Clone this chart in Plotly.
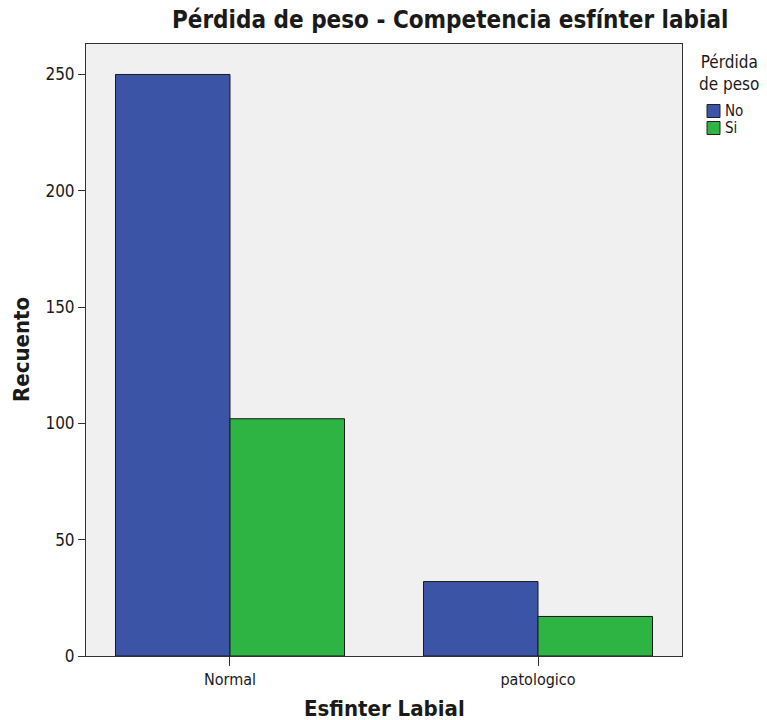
import plotly.graph_objects as go

categories = ["Normal", "patologico"]
series_names = ["No", "Si"]
values_no = [250, 32]
values_si = [102, 17]
colors = ["#3B54A6", "#2DB443"]
y_ticks = [0, 50, 100, 150, 200, 250]
legend_title = "Pérdida<br>de peso"

W, H = 767, 720
L, R, T, B = 86, 85, 44, 64
pw, ph = W - L - R, H - T - B

FONT = "DejaVu Sans Condensed"
TXT = "#1a1a1a"


def px_x(px):
    return (px - L) / pw


def px_y(py):
    return (H - B - py) / ph


fig = go.Figure()
for name, vals, col in zip(series_names, [values_no, values_si], colors):
    fig.add_trace(go.Bar(
        x=categories, y=vals, name=name, showlegend=False,
        marker=dict(color=col, line=dict(color="#1a1a1a", width=1)),
    ))

# custom legend (squares + labels)
shapes = []
annotations = []
legend_rows_y = [111, 128]
for name, col, cy in zip(series_names, colors, legend_rows_y):
    shapes.append(dict(
        type="rect", xref="paper", yref="paper",
        x0=px_x(707), x1=px_x(720), y0=px_y(cy + 6.5), y1=px_y(cy - 6.5),
        fillcolor=col, line=dict(color="#222", width=1),
    ))
    annotations.append(dict(
        text=name, xref="paper", yref="paper", x=px_x(723), y=px_y(cy),
        xanchor="left", yanchor="middle", showarrow=False,
        font=dict(size=15, family=FONT, color=TXT),
    ))
annotations.append(dict(
    text=legend_title, xref="paper", yref="paper", x=px_x(761), y=px_y(73),
    xanchor="right", yanchor="middle", showarrow=False, align="center",
    font=dict(size=17, family=FONT, color=TXT),
))

annotations += [
    dict(text="<b>Pérdida de peso - Competencia esfínter labial</b>",
         xref="paper", yref="paper", x=px_x(450), y=px_y(20),
         xanchor="center", yanchor="middle", showarrow=False,
         font=dict(size=24, family=FONT, color=TXT)),
    dict(text="<b>Recuento</b>", textangle=-90,
         xref="paper", yref="paper", x=px_x(21), y=px_y(350),
         xanchor="center", yanchor="middle", showarrow=False,
         font=dict(size=22, family=FONT, color=TXT)),
    dict(text="<b>Esfinter Labial</b>",
         xref="paper", yref="paper", x=px_x(384), y=px_y(708),
         xanchor="center", yanchor="middle", showarrow=False,
         font=dict(size=22, family=FONT, color=TXT)),
]

fig.update_layout(
    width=W, height=H,
    margin=dict(l=L, r=R, t=T, b=B),
    paper_bgcolor="white",
    plot_bgcolor="#F0F0F0",
    barmode="group",
    bargap=0.2565,
    bargroupgap=0,
    font=dict(family=FONT, size=16, color=TXT),
    showlegend=False,
    xaxis=dict(
        range=[-0.4675, 1.4675],
        showline=True, linecolor="#333", linewidth=1, mirror=True,
        ticks="outside", ticklen=9, tickcolor="#333",
        showgrid=False, tickfont=dict(size=16, color=TXT),
    ),
    yaxis=dict(
        range=[0, 263.1],
        tickvals=y_ticks,
        showline=True, linecolor="#333", linewidth=1, mirror=True,
        ticks="outside", ticklen=7, tickcolor="#333",
        showgrid=False, zeroline=False, tickfont=dict(size=17, color=TXT),
    ),
    shapes=shapes,
    annotations=annotations,
)

fig.write_html(
    "out.html",
    config={"displayModeBar": False},
    post_script="document.body.style.margin='0';",
)
